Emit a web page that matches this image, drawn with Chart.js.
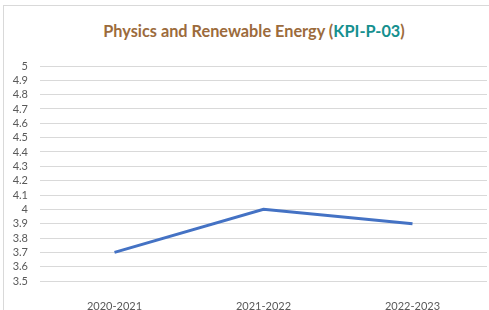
<!DOCTYPE html>
<html>
<head>
<meta charset="utf-8">
<script src="https://cdn.jsdelivr.net/npm/chart.js@4/dist/chart.umd.min.js"></script>
<style>
  html, body { margin: 0; padding: 0; background: #fff; }
  #wrap { position: relative; width: 489px; height: 310px; overflow: hidden; }
  #frame { position: absolute; left: 3px; top: 5px; width: 600px; height: 400px; border: 1px solid #d9d9d9; }
  #title { position: absolute; left: 0; width: 508px; top: 21px; text-align: center;
    font: bold 16.3px Lato, sans-serif; color: #9c6b3c; white-space: nowrap; }
  #title .kpi { color: #15908f; }
  canvas { position: absolute; left: 0; top: 0; }
</style>
</head>
<body>
<div id="wrap">
  <div id="frame"></div>
  <div id="title">Physics and Renewable Energy (<span class="kpi">KPI-P-03</span>)</div>
  <canvas id="chart" width="489" height="310"></canvas>
</div>
<script>
// values
const years = ["2020-2021", "2021-2022", "2022-2023"]
const scores = [3.7, 4.0, 3.9]
const yMin = 3.5
const yMax = 5
const yStep = 0.1

const tickFont = { family: "Lato, sans-serif", size: 11 }

new Chart(document.getElementById("chart"), {
  type: "line",
  data: {
    labels: years,
    datasets: [
      {
        label: "KPI-P-03",
        data: scores,
        borderColor: "#4472c4",
        borderWidth: 3,
        pointRadius: 0,
        tension: 0,
        fill: false,
      },
    ],
  },
  options: {
    responsive: false,
    animation: false,
    layout: { padding: { top: 66, right: 2, bottom: 0, left: 0 } },
    plugins: {
      legend: { display: false },
      tooltip: { enabled: false },
    },
    scales: {
      x: {
        offset: true,
        grid: { display: false },
        border: { display: false },
        ticks: { color: "#595959", font: tickFont, padding: 11, maxRotation: 0 },
        afterFit: (scale) => { scale.height = 29 },
      },
      y: {
        min: yMin,
        max: yMax,
        grid: { color: "#d9d9d9", drawTicks: false },
        border: { display: false },
        ticks: {
          stepSize: yStep,
          autoSkip: false,
          color: "#595959",
          font: tickFont,
          padding: 12,
          callback: (v) => Math.round(v * 10) / 10,
        },
        afterFit: (scale) => { scale.width = 40 },
      },
    },
  },
})
</script>
</body>
</html>
